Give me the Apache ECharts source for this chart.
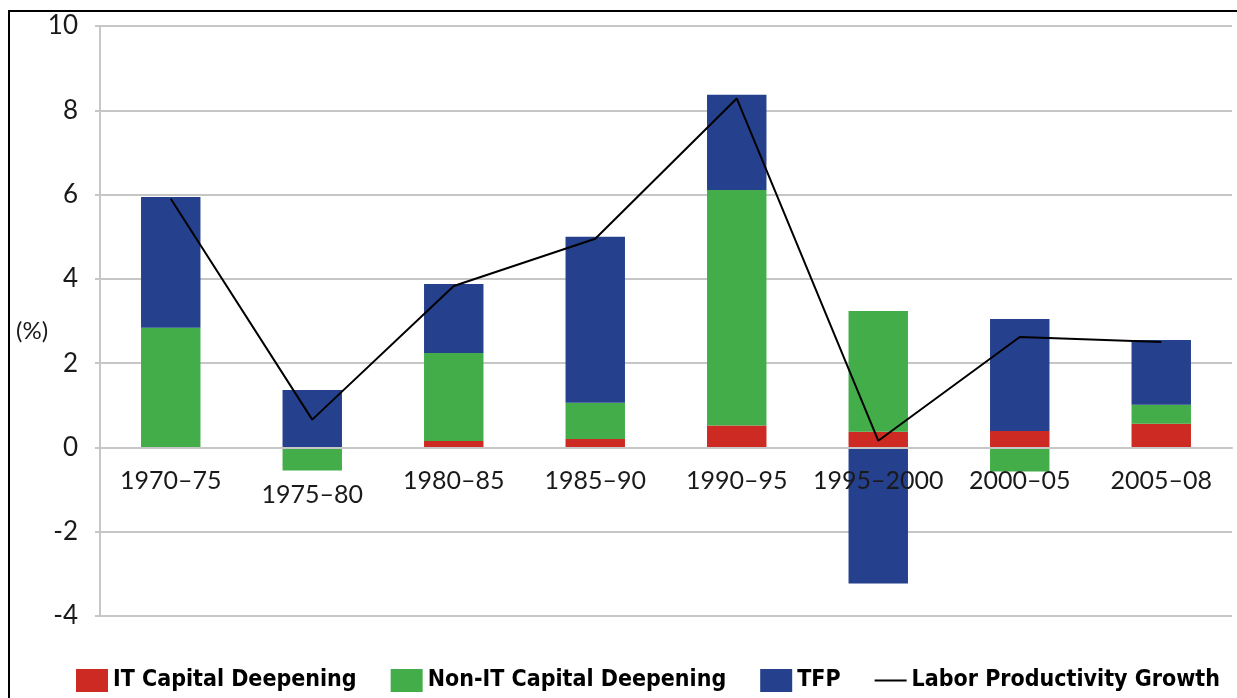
<!DOCTYPE html>
<html>
<head>
<meta charset="utf-8">
<script src="https://cdn.jsdelivr.net/npm/echarts@6/dist/echarts.min.js"></script>
<style>
  html, body { margin: 0; padding: 0; background: #fff; }
  #chart { width: 1237px; height: 698px; }
</style>
</head>
<body>
<div id="chart"></div>
<script>
// Period labels along the horizontal axis
var periods = ['1970\u201375', '1975\u201380', '1980\u201385', '1985\u201390', '1990\u201395', '1995\u20132000', '2000\u201305', '2005\u201308'];

// Contributions to labor productivity growth (percentage points)
var itCapital    = [0.00, 0.00, 0.15, 0.20, 0.52, 0.37, 0.39, 0.56];
var nonItCapital = [2.84, -0.55, 2.09, 0.86, 5.59, 2.87, -0.57, 0.45];
var tfp          = [3.10, 1.36, 1.64, 3.94, 2.26, -3.23, 2.66, 1.54];

// Labor productivity growth (%)
var laborProductivity = [5.90, 0.66, 3.83, 4.95, 8.28, 0.16, 2.62, 2.50];

// Value axis ticks
var yTicks = { min: -4, max: 10, step: 2 };

var COLORS = { it: '#cc2a22', nonIt: '#43ad4a', tfp: '#25418e', line: '#000000' };
var labelFont = 'Lato, "Open Sans", sans-serif';
var legendFont = '"Liberation Sans Narrow", "DejaVu Sans Condensed", "Liberation Sans", sans-serif';

var GRID = { left: 100, top: 26, right: 5, bottom: 82 };

var chart = echarts.init(document.getElementById('chart'), null, { renderer: 'canvas' });

function barSeries(name, data, color) {
  return {
    name: name,
    type: 'bar',
    stack: 'total',
    data: data,
    barCategoryGap: '58%',
    itemStyle: { color: color },
    emphasis: { disabled: true }
  };
}

// Lift the category axis (line and labels) to sit on the zero value
var plotHeight = 698 - GRID.top - GRID.bottom;
var zeroOffset = plotHeight * (0 - yTicks.min) / (yTicks.max - yTicks.min);

chart.setOption({
  animation: false,
  grid: { left: GRID.left, top: GRID.top, right: GRID.right, bottom: GRID.bottom, containLabel: false },
  graphic: [
    {
      type: 'rect',
      shape: { x: 9, y: 11, width: 1400, height: 900 },
      style: { fill: 'none', stroke: '#000', lineWidth: 2 },
      silent: true
    },
    {
      type: 'text',
      left: 16,
      top: 319,
      style: { text: '(%)', font: '24px ' + labelFont, fill: '#1a1a1a' },
      silent: true
    }
  ],
  legend: {
    bottom: 6,
    left: 76,
    width: 1150,
    padding: 0,
    itemWidth: 32,
    itemHeight: 23,
    itemGap: 34,
    selectedMode: false,
    textStyle: { fontFamily: legendFont, fontWeight: 'bold', fontSize: 23, color: '#000' },
    data: [
      { name: 'IT Capital Deepening', icon: 'rect' },
      { name: 'Non-IT Capital Deepening', icon: 'rect' },
      { name: 'TFP', icon: 'rect' },
      { name: 'Labor Productivity Growth', icon: 'path://M0,0H32V2H0Z' }
    ]
  },
  xAxis: {
    type: 'category',
    data: periods,
    offset: -zeroOffset,
    z: 10,
    axisLine: { onZero: false, lineStyle: { color: '#c6c6c6', width: 2 } },
    axisTick: { show: false },
    axisLabel: {
      interval: 0,
      margin: 21,
      color: '#1a1a1a',
      fontFamily: labelFont,
      fontSize: 25,
      formatter: function (v, i) { return i === 1 ? '{low|' + v + '}' : v; },
      rich: { low: { fontFamily: labelFont, fontSize: 25, color: '#1a1a1a', padding: [14, 0, 0, 0] } }
    }
  },
  yAxis: {
    type: 'value',
    min: yTicks.min,
    max: yTicks.max,
    interval: yTicks.step,
    axisLine: { show: true, lineStyle: { color: '#c6c6c6', width: 2 } },
    axisTick: { show: true, length: 5, lineStyle: { color: '#c6c6c6', width: 2 } },
    splitLine: { lineStyle: { color: '#c6c6c6', width: 2 } },
    axisLabel: { margin: 22, color: '#1a1a1a', fontFamily: labelFont, fontSize: 26 }
  },
  series: [
    barSeries('IT Capital Deepening', itCapital, COLORS.it),
    barSeries('Non-IT Capital Deepening', nonItCapital, COLORS.nonIt),
    barSeries('TFP', tfp, COLORS.tfp),
    {
      name: 'Labor Productivity Growth',
      type: 'line',
      data: laborProductivity,
      symbol: 'none',
      itemStyle: { color: COLORS.line },
      lineStyle: { color: COLORS.line, width: 2 },
      z: 5
    }
  ]
});
</script>
</body>
</html>
